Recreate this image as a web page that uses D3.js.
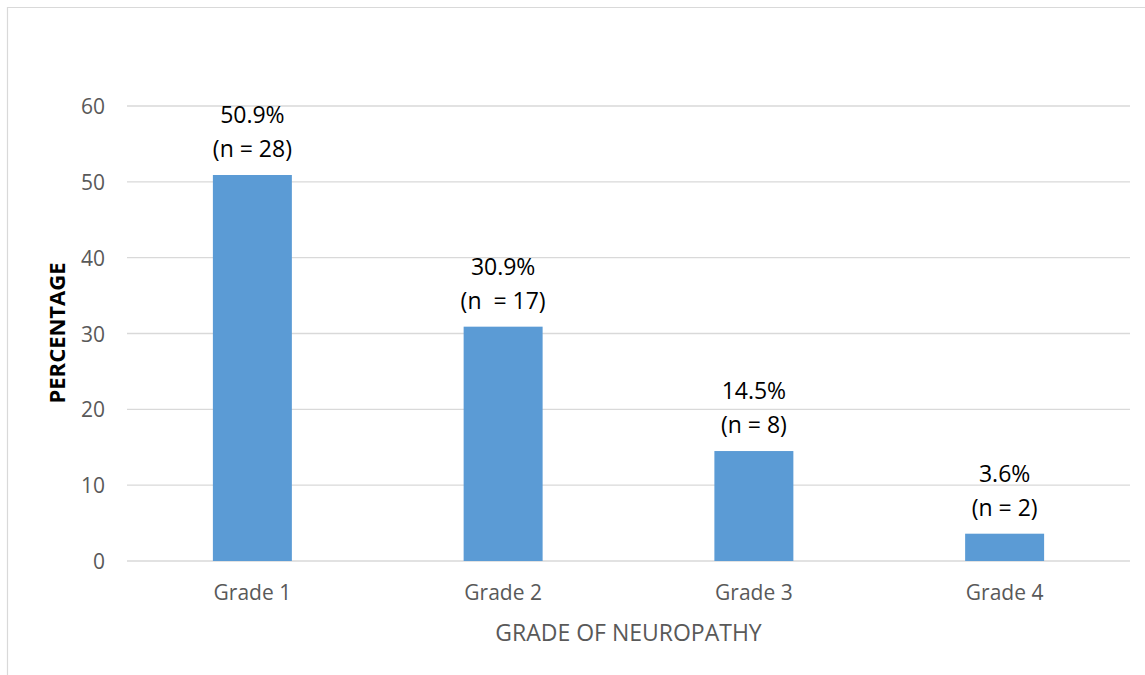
<!DOCTYPE html>
<html>
<head>
<meta charset="utf-8">
<script src="https://cdn.jsdelivr.net/npm/d3@7"></script>
<style>
  html, body { margin: 0; padding: 0; background: #fff; }
  svg { display: block; }
  text { font-family: "Open Sans", "Liberation Sans", sans-serif; }
</style>
</head>
<body>
<svg id="chart" width="1145" height="675"></svg>
<script>
// Grade of neuropathy distribution
const categories = ["Grade 1", "Grade 2", "Grade 3", "Grade 4"];
const percentages = [50.9, 30.9, 14.5, 3.6];
const counts = ["(n = 28)", "(n  = 17)", "(n = 8)", "(n = 2)"];
const yTicks = [0, 10, 20, 30, 40, 50, 60];

const svg = d3.select("#chart");
const W = 1145, H = 675;
const plot = { left: 127, right: 1130, top: 106, bottom: 561 };

// Chart frame (top and left edges visible)
svg.append("path")
  .attr("d", `M7.5,${H} V7.5 H${W}`)
  .attr("fill", "none")
  .attr("stroke", "#d9d9d9")
  .attr("stroke-width", 1.2);

const x = d3.scaleBand()
  .domain(categories)
  .range([plot.left, plot.right])
  .padding(0);

const y = d3.scaleLinear()
  .domain([0, 60])
  .range([plot.bottom, plot.top]);

// Horizontal gridlines
svg.append("g")
  .selectAll("line")
  .data(yTicks)
  .join("line")
  .attr("x1", plot.left)
  .attr("x2", plot.right)
  .attr("y1", d => y(d))
  .attr("y2", d => y(d))
  .attr("stroke", "#d9d9d9")
  .attr("stroke-width", 1.3);

// Y axis labels
const yAxis = d3.axisLeft(y).tickValues(yTicks).tickSize(0).tickPadding(0);
const gy = svg.append("g")
  .attr("transform", `translate(${plot.left - 22},0)`)
  .call(yAxis);
gy.select(".domain").remove();
gy.selectAll("text")
  .attr("font-size", 21)
  .attr("fill", "#595959")
  .style("font-family", '"Open Sans", sans-serif')
  .attr("dy", "0.36em");

// Bars
const barFrac = 0.315;
const bw = x.bandwidth() * barFrac;
svg.append("g")
  .selectAll("rect")
  .data(categories)
  .join("rect")
  .attr("x", (d) => x(d) + (x.bandwidth() - bw) / 2)
  .attr("width", bw)
  .attr("y", (d, i) => y(percentages[i]))
  .attr("height", (d, i) => y(0) - y(percentages[i]))
  .attr("fill", "#5b9bd5");

// Data labels: percentage and count
const labels = svg.append("g")
  .selectAll("g")
  .data(categories)
  .join("g")
  .attr("transform", (d, i) => `translate(${x(d) + x.bandwidth() / 2},${y(percentages[i])})`);

labels.append("text")
  .attr("text-anchor", "middle")
  .attr("y", -52)
  .attr("font-size", 23)
  .attr("fill", "#000")
  .text((d, i) => percentages[i].toFixed(1) + "%");

labels.append("text")
  .attr("text-anchor", "middle")
  .attr("y", -18)
  .attr("font-size", 23)
  .attr("fill", "#000")
  .style("white-space", "pre")
  .text((d, i) => counts[i]);

// X axis category labels
const xAxis = d3.axisBottom(x).tickSize(0).tickPadding(0);
const gx = svg.append("g")
  .attr("transform", `translate(0,${plot.bottom + 39})`)
  .call(xAxis);
gx.select(".domain").remove();
gx.selectAll("text")
  .attr("font-size", 21)
  .attr("fill", "#595959")
  .style("font-family", '"Open Sans", sans-serif')
  .attr("dy", "0");

// Axis titles
svg.append("text")
  .attr("x", (plot.left + plot.right) / 2)
  .attr("y", 641)
  .attr("text-anchor", "middle")
  .attr("font-size", 23)
  .attr("fill", "#595959")
  .text("GRADE OF NEUROPATHY");

svg.append("text")
  .attr("transform", `translate(65,333) rotate(-90)`)
  .attr("text-anchor", "middle")
  .attr("font-size", 22)
  .attr("font-weight", "bold")
  .attr("fill", "#000")
  .text("PERCENTAGE");
</script>
</body>
</html>
